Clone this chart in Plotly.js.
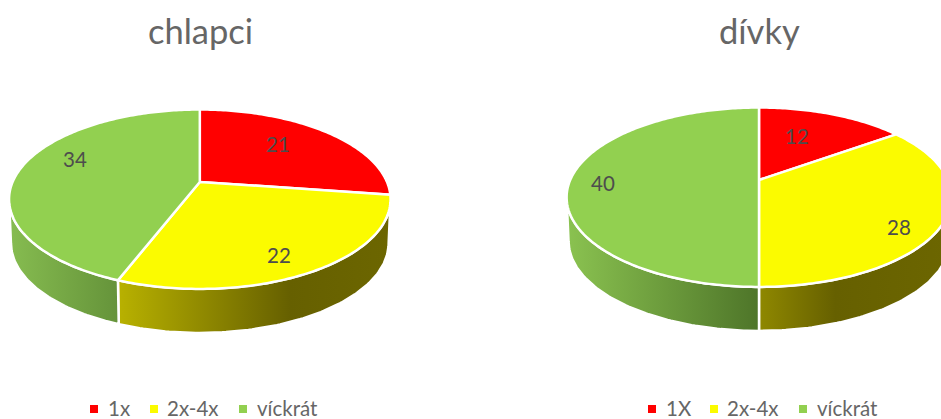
<!DOCTYPE html>
<html>
<head>
<meta charset="utf-8">
<script src="https://cdn.plot.ly/plotly-3.0.1.min.js"></script>
<style>html,body{margin:0;padding:0;background:#fff;overflow:hidden}</style>
</head>
<body>
<div id="chart" style="width:941px;height:419px"></div>
<script>
// ---- data ----
const chartTitles = ['chlapci', 'dívky'];
const categoriesBoys = ['1x', '2x-4x', 'víckrát'];
const categoriesGirls = ['1X', '2x-4x', 'víckrát'];
const valuesBoys = [21, 22, 34];
const valuesGirls = [12, 28, 40];

// ---- style ----
const topColors = ['#FF0000', '#FBFB00', '#92D050'];
const sideStops = {
  boys: [null,
    {start: 119, stop: 390, scale: [[0, '#B8B100'], [0.63, '#666000'], [1, '#6C6600']]},
    {start: 10, stop: 119, scale: [[0, '#86BC50'], [1, '#65933A']]}],
  girls: [null,
    {start: 759, stop: 950, scale: [[0, '#8F8800'], [0.4, '#666000'], [1, '#6C6600']]},
    {start: 568, stop: 759, scale: [[0, '#8AC250'], [1, '#4E7529']]}]
};
const textGray = '#666666', labelGray = '#4D4D4D';
const FONT = 'Lato, Carlito, sans-serif';

// ---- layout geometry (pixels on the hidden axes) ----
const H = 86.4, K = 0.192, DEPTH = 44, BOTTOM_SCALE = 0.99;
const pies = [
  {key: 'boys', cx: 199.8, cy: 182, R: 187.2, values: valuesBoys, cats: categoriesBoys, titleX: 200,
   labels: [[278, 144], [279, 255], [75, 159]],
   legend: [[94, 108], [154, 167], [243, 257]]},
  {key: 'girls', cx: 759, cy: 180, R: 188.8, values: valuesGirls, cats: categoriesGirls, titleX: 759,
   labels: [[797, 136], [899, 227], [603, 183]],
   legend: [[652, 666], [714, 727], [803, 817]]}
];
const LEGEND_Y = 407.5, LEGEND_MARK_Y = 409, TITLE_Y = 30;
const W = 941, HGT = 419;
const FRONT_MIN = Math.acos(-K), FRONT_MAX = 2 * Math.PI - FRONT_MIN;

function proj(p, t) {
  const u = Math.sin(t), v = Math.cos(t), w = 1 + K * v;
  return [p.cx + p.R * u / w, p.cy - H * v / w];
}
function arc(p, a, b) {
  const n = Math.max(2, Math.ceil(Math.abs(b - a) * 60));
  const out = [];
  for (let i = 0; i <= n; i++) out.push(proj(p, a + (b - a) * i / n));
  return out;
}

const traces = [], annotations = [];
pies.forEach(p => {
  const total = p.values.reduce((s, v) => s + v, 0);
  let acc = 0;
  const spans = p.values.map(v => { const a = acc / total * 2 * Math.PI; acc += v; return [a, acc / total * 2 * Math.PI]; });

  // side walls, then top faces
  spans.forEach((s, i) => {
    const a = Math.max(s[0], FRONT_MIN), b = Math.min(s[1], FRONT_MAX);
    if (b <= a) return;
    const upper = arc(p, a, b);
    const lower = upper.slice().reverse().map(q => [p.cx + (q[0] - p.cx) * BOTTOM_SCALE, q[1] + DEPTH]);
    const pts = upper.concat(lower);
    pts.push(pts[0]);
    const g = sideStops[p.key][i];
    traces.push({
      type: 'scatter', mode: 'lines', showlegend: false, hoverinfo: 'skip',
      x: pts.map(q => q[0]), y: pts.map(q => q[1]), fill: 'toself',
      fillgradient: {type: 'horizontal', start: g.start, stop: g.stop, colorscale: g.scale},
      line: {color: '#FFFFFF', width: 2.5}
    });
  });
  spans.forEach((s, i) => {
    const pts = [[p.cx, p.cy]].concat(arc(p, s[0], s[1]));
    pts.push([p.cx, p.cy]);
    traces.push({
      type: 'scatter', mode: 'lines', showlegend: false, name: p.cats[i], hoverinfo: 'skip',
      x: pts.map(q => q[0]), y: pts.map(q => q[1]), fill: 'toself',
      fillcolor: topColors[i], line: {color: '#FFFFFF', width: 2.5, simplify: false}
    });
  });

  // value labels
  p.values.forEach((v, i) => annotations.push({
    xref: 'x', yref: 'y', x: p.labels[i][0], y: p.labels[i][1], text: String(v), showarrow: false,
    xanchor: 'center', yanchor: 'middle', font: {family: FONT, size: 20.5, color: labelGray}
  }));

  // legend
  p.cats.forEach((c, i) => {
    traces.push({
      type: 'scatter', mode: 'markers', showlegend: false, hoverinfo: 'skip',
      x: [p.legend[i][0]], y: [LEGEND_MARK_Y],
      marker: {symbol: 'square', size: 8, color: topColors[i], line: {width: 0}}
    });
    annotations.push({
      xref: 'x', yref: 'y', x: p.legend[i][1], y: LEGEND_Y, text: c, showarrow: false,
      xanchor: 'left', yanchor: 'middle', xshift: -2, font: {family: FONT, size: 20.5, color: textGray}
    });
  });
});

chartTitles.forEach((t, i) => annotations.push({
  xref: 'x', yref: 'y', x: pies[i].titleX, y: TITLE_Y, text: t, showarrow: false,
  xanchor: 'center', yanchor: 'middle', font: {family: FONT, size: 34.5, color: textGray}
}));

Plotly.newPlot('chart', traces, {
  width: W, height: HGT,
  margin: {l: 0, r: 0, t: 0, b: 0},
  paper_bgcolor: '#FFFFFF', plot_bgcolor: '#FFFFFF',
  showlegend: false,
  xaxis: {range: [0, W], visible: false, fixedrange: true},
  yaxis: {range: [HGT, 0], visible: false, fixedrange: true},
  annotations: annotations
}, {displayModeBar: false, staticPlot: true});
</script>
</body>
</html>
